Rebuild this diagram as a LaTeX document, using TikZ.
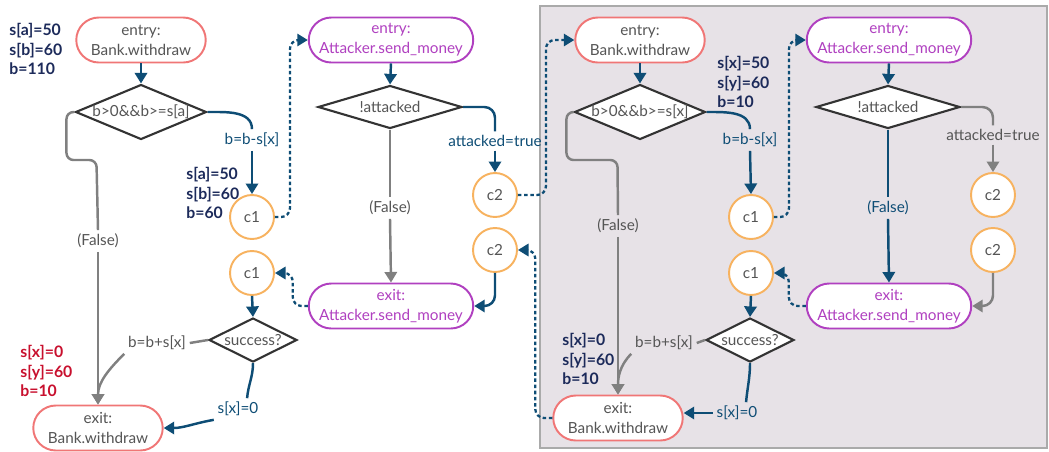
\documentclass[tikz,border=0pt]{standalone}
\usepackage{fontspec}
\setmainfont{Lato}
\usetikzlibrary{arrows.meta, shapes.geometric, shapes.misc}

\definecolor{bankred}{RGB}{240,118,118}
\definecolor{attpurple}{RGB}{176,64,192}
\definecolor{corange}{RGB}{247,178,95}
\definecolor{flowblue}{RGB}{14,77,117}
\definecolor{flowgrey}{RGB}{128,128,128}
\definecolor{textgrey}{RGB}{85,85,85}
\definecolor{diagrey}{RGB}{51,51,51}
\definecolor{navy}{RGB}{28,42,90}
\definecolor{alarm}{RGB}{200,16,46}
\definecolor{panelfill}{RGB}{231,226,231}
\definecolor{panelline}{RGB}{170,170,170}

\begin{document}
\begin{tikzpicture}[
    x = 0.02cm, y = 0.02cm,
    font = \fontsize{8.7}{11.3}\selectfont,
    terminal/.style = {rounded rectangle, draw, fill = white,
      line width = 1.1pt, align = center,
      minimum height = 0.9cm, inner sep = 1pt},
    bank/.style = {draw = bankred, text = textgrey, minimum width = 2.66cm},
    attacker/.style = {draw = attpurple, text = attpurple,
      minimum width = 3.36cm},
    decision/.style = {diamond, draw = diagrey, fill = white,
      line width = 1.2pt, text = textgrey, inner sep = 0pt},
    conn/.style = {circle, draw = corange, fill = white,
      line width = 1.1pt, text = textgrey,
      minimum size = 0.88cm, inner sep = 0pt},
    lbl/.style = {inner sep = 2pt},
    state/.style = {font = \fontsize{9}{11.3}\selectfont\bfseries,
      text = navy, align = left, anchor = west, inner sep = 0pt},
    callflow/.style = {draw = flowblue, line width = 1.4pt},
    elseflow/.style = {draw = flowgrey, line width = 1.4pt},
    jump/.style = {draw = flowblue, line width = 1.3pt,
      dash pattern = on 2pt off 1.5pt, rounded corners = 5pt},
    tip/.style = {-{Triangle[width = 7pt, length = 6pt]}},
    ]

    \useasboundingbox (0, 0) rectangle (1049, -451);

    % second run, shaded
    \draw [fill = panelfill, draw = panelline, line width = 1pt]
    (540, -6) rectangle (1047, -448);

    % first Bank.withdraw
    \node at (141, -40) [terminal, bank, name = bw1_entry] {entry:\\Bank.withdraw};
    \node at (141, -112) [decision, aspect = 2.4, minimum width = 2.62cm,
      minimum height = 1.1cm, name = bw1_test] {b>0\&\&b>=s[a]};
    \node at (252, -140) [lbl, text = flowblue, name = bw1_sub] {b=b-s[x]};
    \node at (252, -217) [conn, name = c1a] {c1};
    \node at (252, -273) [conn, name = c1b] {c1};
    \node at (253, -340) [decision, aspect = 2, minimum width = 1.76cm,
      minimum height = 0.88cm, name = ok1] {success?};
    \node at (157, -343) [lbl, text = textgrey, name = add1] {b=b+s[x]};
    \node at (238, -409) [lbl, text = flowblue, name = zero1] {s[x]=0};
    \node at (98, -241) [lbl, text = textgrey, name = false1] {(False)};
    \node at (98, -428) [terminal, bank, name = bw1_exit] {exit:\\Bank.withdraw};

    \node at (9, -49) [state, name = st0] {s[a]=50\\s[b]=60\\b=110};
    \node at (186, -193) [state, name = st1] {s[a]=50\\s[b]=60\\b=60};
    \node at (20, -371) [state, text = alarm, name = st2] {s[x]=0\\s[y]=60\\b=10};

    % first Attacker.send_money
    \node at (391, -40) [terminal, attacker, name = am1_entry]
    {entry:\\Attacker.send\_money};
    \node at (390, -107) [decision, aspect = 3.35, minimum width = 2.88cm,
      minimum height = 0.86cm, name = am1_test] {!attacked};
    \node at (495, -141) [lbl, text = flowblue, name = att1] {attacked=true};
    \node at (495, -195) [conn, name = c2a] {c2};
    \node at (495, -250) [conn, name = c2b] {c2};
    \node at (390, -208) [lbl, text = textgrey, name = false2] {(False)};
    \node at (391, -306) [terminal, attacker, name = am1_exit]
    {exit:\\Attacker.send\_money};

    % second Bank.withdraw
    \node at (640, -40) [terminal, bank, name = bw2_entry] {entry:\\Bank.withdraw};
    \node at (640, -112) [decision, aspect = 2.4, minimum width = 2.62cm,
      minimum height = 1.1cm, name = bw2_test] {b>0\&\&b>=s[x]};
    \node at (750, -140) [lbl, text = flowblue, name = bw2_sub] {b=b-s[x]};
    \node at (751, -217) [conn, name = c1c] {c1};
    \node at (751, -273) [conn, name = c1d] {c1};
    \node at (750, -340) [decision, aspect = 2, minimum width = 1.76cm,
      minimum height = 0.88cm, name = ok2] {success?};
    \node at (664, -343) [lbl, text = textgrey, name = add2] {b=b+s[x]};
    \node at (737, -413) [lbl, text = flowblue, name = zero2] {s[x]=0};
    \node at (618, -226) [lbl, text = textgrey, name = false3] {(False)};
    \node at (618, -418) [terminal, bank, name = bw2_exit] {exit:\\Bank.withdraw};

    \node at (717, -82) [state, name = st3] {s[x]=50\\s[y]=60\\b=10};
    \node at (562, -359) [state, name = st4] {s[x]=0\\s[y]=60\\b=10};

    % second Attacker.send_money
    \node at (889, -40) [terminal, attacker, name = am2_entry]
    {entry:\\Attacker.send\_money};
    \node at (888, -107) [decision, aspect = 3.35, minimum width = 2.88cm,
      minimum height = 0.86cm, name = am2_test] {!attacked};
    \node at (993, -135) [lbl, text = textgrey, name = att2] {attacked=true};
    \node at (993, -195) [conn, name = c2c] {c2};
    \node at (993, -250) [conn, name = c2d] {c2};
    \node at (888, -208) [lbl, text = flowblue, name = false4] {(False)};
    \node at (889, -306) [terminal, attacker, name = am2_exit]
    {exit:\\Attacker.send\_money};

    % first Bank.withdraw flows
    \draw [callflow, tip] (bw1_entry.south) -- (bw1_test.north);
    \draw [callflow] (bw1_test.east) to [out = 0, in = 90] (bw1_sub.north);
    \draw [callflow, tip] (bw1_sub.south) -- (c1a.north);
    \draw [elseflow, rounded corners = 4pt] (bw1_test.west) -- ++(-8, 0)
    -- ++(0, -48) -- ++(30, 0) -- (false1.north);
    \draw [elseflow, tip] (false1.south) -- (bw1_exit.north);
    \draw [callflow, tip] (c1b.south) -- (ok1.north);
    \draw [elseflow] (ok1.west) -- (add1.east);
    \draw [elseflow, tip] (add1.south west) to [out = 225, in = 90] (bw1_exit.north);
    \draw [callflow] (ok1.south) to [out = -90, in = 85] (zero1.50);
    \draw [callflow, tip] (zero1.south west) to [out = 190, in = 0] (bw1_exit.east);

    % first Attacker.send_money flows
    \draw [callflow, tip] (am1_entry.south) -- (am1_test.north);
    \draw [elseflow] (am1_test.south) -- (false2.north);
    \draw [elseflow, tip] (false2.south) -- (am1_exit.north);
    \draw [callflow, rounded corners = 6pt] (am1_test.east) -| (att1.north);
    \draw [callflow, tip] (att1.south) -- (c2a.north);
    \draw [callflow, tip, rounded corners = 6pt] (c2b.south) |- (am1_exit.east);

    % second Bank.withdraw flows
    \draw [callflow, tip] (bw2_entry.south) -- (bw2_test.north);
    \draw [callflow] (bw2_test.east) to [out = 0, in = 90] (bw2_sub.north);
    \draw [callflow, tip] (bw2_sub.south) -- (c1c.north);
    \draw [elseflow, rounded corners = 4pt] (bw2_test.west) -- ++(-7, 0)
    -- ++(0, -48) -- ++(51, 0) -- (false3.north);
    \draw [elseflow, tip] (false3.south) -- (bw2_exit.north);
    \draw [callflow, tip] (c1d.south) -- (ok2.north);
    \draw [elseflow] (ok2.west) -- (add2.east);
    \draw [elseflow, tip] (add2.south west) to [out = 225, in = 90] (bw2_exit.north);
    \draw [callflow] (ok2.south) to [out = -90, in = 85] (zero2.50);
    \draw [callflow, tip] (zero2.west) -- (zero2.west -| bw2_exit.east);

    % second Attacker.send_money flows
    \draw [callflow, tip] (am2_entry.south) -- (am2_test.north);
    \draw [callflow] (am2_test.south) -- (false4.north);
    \draw [callflow, tip] (false4.south) -- (am2_exit.north);
    \draw [elseflow, rounded corners = 6pt] (am2_test.east) -| (att2.north);
    \draw [elseflow, tip] (att2.south) -- (c2c.north);
    \draw [elseflow, tip, rounded corners = 6pt] (c2d.south) |- (am2_exit.east);

    % calls and returns
    \draw [jump, tip] (c1a.east) -- ++(15, 0) |- (am1_entry.west);
    \draw [jump, tip] (am1_exit.west) -- ++(-15, 0) |- (c1b.east);
    \draw [jump, tip] (c2a.east) -- ++(28, 0) |- (bw2_entry.west);
    \draw [jump, tip] (bw2_exit.west) -- ++(-17, 0) |- (c2b.east);
    \draw [jump, tip] (c1c.east) -- ++(15, 0) |- (am2_entry.west);
    \draw [jump, tip] (am2_exit.west) -- ++(-17, 0) |- (c1d.east);
  \end{tikzpicture}
\end{document}
